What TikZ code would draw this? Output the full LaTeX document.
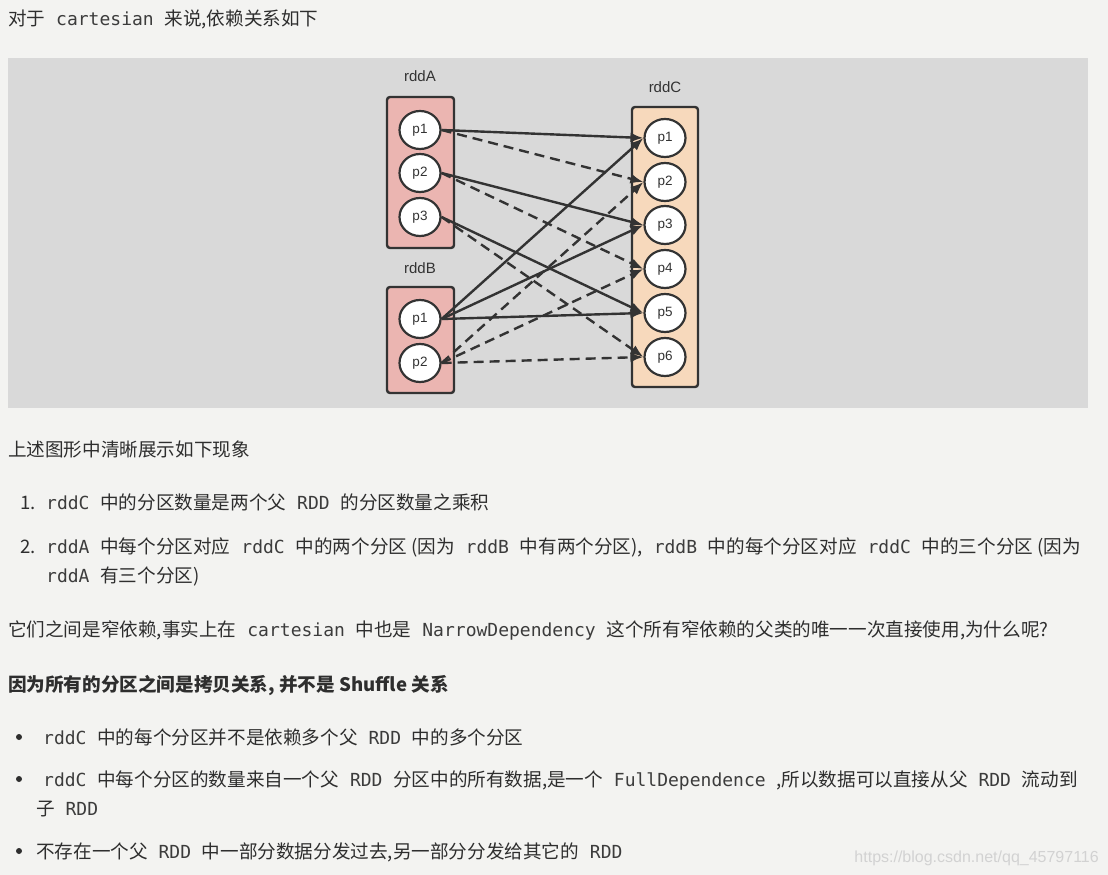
\documentclass[tikz,border=0pt]{standalone}
\usepackage{fontspec}
\setmainfont{Noto Sans CJK SC}
\setmonofont{DejaVu Sans Mono}
\newfontfamily\diagfont{Liberation Sans}
\usetikzlibrary{arrows.meta,shapes.geometric}
\definecolor{pagebg}{HTML}{F3F3F1}
\definecolor{panelbg}{HTML}{D9D9D9}
\definecolor{pinkfill}{HTML}{EBB5B1}
\definecolor{peachfill}{HTML}{F7D9BC}
\definecolor{ink}{HTML}{333333}
\definecolor{txt}{HTML}{2E2E2E}
\definecolor{codec}{HTML}{3C3C3C}
\definecolor{wm}{HTML}{D2D2D2}
\newcommand\mycode[1]{{\color{codec}\ttfamily\fontsize{18}{20}\selectfont#1}}
\tikzset{
  rddbox/.style={draw=ink, line width=2.4pt, rounded corners=3pt},
  part/.style={ellipse, draw=ink, line width=2.2pt, fill=white, minimum width=41pt, minimum height=38pt, inner sep=0pt, font=\diagfont\fontsize{13.5}{15}\selectfont, text=ink},
  rddlabel/.style={font=\diagfont\fontsize{15}{17}\selectfont, text=ink, inner sep=0pt},
  solidarr/.style={draw=ink, line width=2.4pt, -{Latex[length=13pt,width=10pt]}},
  dasharr/.style={solidarr, dash pattern=on 10pt off 6pt},
  para/.style={anchor=base west, inner sep=0pt, font=\fontsize{18.6}{22}\selectfont, text=txt},
  bul/.style={circle, fill=txt, inner sep=0pt, minimum size=6pt},
}
\begin{document}
\begin{tikzpicture}[x=1pt,y=-1pt]
\useasboundingbox (0,0) rectangle (1108,875);
\fill[pagebg] (0,0) rectangle (1108,875);
\fill[panelbg] (8,58) rectangle (1088,408);

% boxes
\draw[rddbox, fill=pinkfill] (387,97) rectangle (454,248);
\draw[rddbox, fill=pinkfill] (387,287) rectangle (454,393);
\draw[rddbox, fill=peachfill] (632,107) rectangle (698,387);

\node[rddlabel] (labA) at (420,76) {rddA};
\node[rddlabel] (labB) at (420,268) {rddB};
\node[rddlabel] (labC) at (665,87) {rddC};

\node[part] (a1) at (420,130) {p1};
\node[part] (a2) at (420,173) {p2};
\node[part] (a3) at (420,217) {p3};
\node[part] (b1) at (420,319) {p1};
\node[part] (b2) at (420,363) {p2};
\node[part] (c1) at (665,138) {p1};
\node[part] (c2) at (665,182) {p2};
\node[part] (c3) at (665,225) {p3};
\node[part] (c4) at (665,269) {p4};
\node[part] (c5) at (665,313) {p5};
\node[part] (c6) at (665,357) {p6};

% arrows
\draw[solidarr] (a1.east) -- (c1.west);
\draw[dasharr] (a1.east) -- (c2.west);
\draw[solidarr] (a2.east) -- (c3.west);
\draw[dasharr] (a2.east) -- (c4.west);
\draw[solidarr] (a3.east) -- (c5.west);
\draw[dasharr] (a3.east) -- (c6.west);
\draw[solidarr] (b1.east) -- (c1.west);
\draw[solidarr] (b1.east) -- (c3.west);
\draw[solidarr] (b1.east) -- (c5.west);
\draw[dasharr] (b2.east) -- (c2.west);
\draw[dasharr] (b2.east) -- (c4.west);
\draw[dasharr] (b2.east) -- (c6.west);

% text
\node[para] (t1) at (8,26) {对于\mycode{ cartesian }来说,依赖关系如下};
\node[para] (t2) at (8,456) {上述图形中清晰展示如下现象};
\node[para] (n1) at (20,509) {1.};
\node[para] (t3) at (46,509) {\mycode{rddC }中的分区数量是两个父\mycode{ RDD }的分区数量之乘积};
\node[para] (n2) at (20,553) {2.};
\node[para] (t4) at (46,553) {\mycode{rddA }中每个分区对应\mycode{ rddC }中的两个分区 (因为\mycode{ rddB }中有两个分区),\mycode{ rddB }中的每个分区对应\mycode{ rddC }中的三个分区 (因为};
\node[para] (t5) at (46,582) {\mycode{rddA }有三个分区)};
\node[para] (t6) at (8,636) {它们之间是窄依赖,事实上在\mycode{ cartesian }中也是\mycode{ NarrowDependency }这个所有窄依赖的父类的唯一一次直接使用,为什么呢?};
\node[para, font=\bfseries\fontsize{18.6}{22}\selectfont] (t7) at (8,691) {因为所有的分区之间是拷贝关系, 并不是 Shuffle 关系};
\node[bul] (d1) at (19,737) {};
\node[para] (t8) at (43,744) {\mycode{rddC }中的每个分区并不是依赖多个父\mycode{ RDD }中的多个分区};
\node[bul] (d2) at (19,779) {};
\node[para] (t9) at (43,786) {\mycode{rddC }中每个分区的数量来自一个父\mycode{ RDD }分区中的所有数据,是一个\mycode{ FullDependence },所以数据可以直接从父\mycode{ RDD }流动到};
\node[para] (t10) at (36,815) {子\mycode{ RDD}};
\node[bul] (d3) at (19,851) {};
\node[para] (t11) at (36,858) {不存在一个父\mycode{ RDD }中一部分数据分发过去,另一部分分发给其它的\mycode{ RDD}};
\node[anchor=base east, inner sep=0pt, font=\diagfont\fontsize{16}{18}\selectfont, text=wm] (wmk) at (1099,862) {https://blog.csdn.net/qq\_45797116};
\end{tikzpicture}
\end{document}
